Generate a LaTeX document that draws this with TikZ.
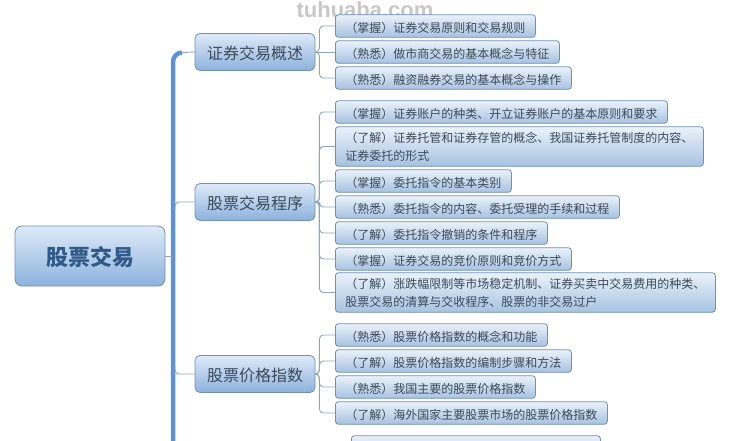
\documentclass[tikz,border=0pt]{standalone}
\usepackage{fontspec}
\setmainfont{Noto Sans CJK SC}
\newfontfamily\markfont{Liberation Sans}
\usetikzlibrary{calc}
\definecolor{trunkblue}{HTML}{5E93D3}
\definecolor{twiggray}{HTML}{8FA6B8}
\definecolor{edgeblue}{HTML}{6F90B4}
\definecolor{inkgray}{HTML}{3C4A58}
\definecolor{rootink}{HTML}{305A88}
\definecolor{boxtop}{HTML}{DDEAF8}
\definecolor{boxbot}{HTML}{8DB2DD}
\definecolor{leaftop}{HTML}{EAF2FA}
\definecolor{leafbot}{HTML}{A6C2E1}
\tikzset{
	rootbox/.style={draw=edgeblue, line width=0.8, rounded corners=7, top color=boxtop, bottom color=boxbot, minimum width=150, minimum height=60, text height=18, text depth=0, text=rootink, font=\fontsize{22}{24}\selectfont\bfseries},
	secbox/.style={draw=edgeblue, line width=0.8, rounded corners=5, top color=boxtop, bottom color=boxbot, minimum width=120, minimum height=37, text height=14, text depth=0, text=inkgray, font=\fontsize{16}{18}\selectfont},
	leafbox/.style={draw=edgeblue, line width=0.8, rounded corners=3, top color=leaftop, bottom color=leafbot, inner xsep=10, inner ysep=0, minimum height=22.5, text height=12, text depth=0, anchor=west, align=left, text=inkgray, font=\fontsize{12}{18}\selectfont},
	longleaf/.style={leafbox, minimum height=39.5, text height=28},
	twig/.style={draw=twiggray, line width=0.9, rounded corners=4},
	trunk/.style={draw=trunkblue, line width=4.5}
}

\begin{document}
\begin{tikzpicture}[x=1pt, y=-1pt]
	%%%%% START %%%%%
	\useasboundingbox (0, 0) rectangle (731, 440);
	\node[text=black!22, font=\markfont\fontsize{22}{24}\selectfont\bfseries] (mark) at (365, 10) {tuhuaba.com};

	% trunk
	\coordinate (trunkTop) at (182, 52.5);
	\coordinate (trunkBot) at (173, 446);
	\draw[trunk] (trunkBot) -- (173, 62) to[out=90, in=180] (trunkTop);

	% root and sections
	\node[rootbox] (root) at (90, 256) {股票交易};
	\node[secbox] (gaishu) at (255, 52) {证券交易概述};
	\node[secbox] (chengxu) at (255, 202) {股票交易程序};
	\node[secbox] (zhishu) at (255, 374) {股票价格指数};

	% first section
	\node[leafbox] (a1) at (335, 26) {（掌握）证券交易原则和交易规则};
	\node[leafbox] (a2) at (335, 52) {（熟悉）做市商交易的基本概念与特征};
	\node[leafbox] (a3) at (335, 78) {（熟悉）融资融券交易的基本概念与操作};

	% second section
	\node[leafbox] (b1) at (335, 112) {（掌握）证券账户的种类、开立证券账户的基本原则和要求};
	\node[longleaf] (b2) at (335, 146.5) {（了解）证券托管和证券存管的概念、我国证券托管制度的内容、\\证券委托的形式};
	\node[leafbox] (b3) at (335, 181) {（掌握）委托指令的基本类别};
	\node[leafbox] (b4) at (335, 207) {（熟悉）委托指令的内容、委托受理的手续和过程};
	\node[leafbox] (b5) at (335, 233) {（了解）委托指令撤销的条件和程序};
	\node[leafbox] (b6) at (335, 259) {（掌握）证券交易的竞价原则和竞价方式};
	\node[longleaf] (b7) at (335, 292.5) {（了解）涨跌幅限制等市场稳定机制、证券买卖中交易费用的种类、\\股票交易的清算与交收程序、股票的非交易过户};

	% third section
	\node[leafbox] (c1) at (335, 335) {（熟悉）股票价格指数的概念和功能};
	\node[leafbox] (c2) at (335, 361) {（了解）股票价格指数的编制步骤和方法};
	\node[leafbox] (c3) at (335, 387) {（熟悉）我国主要的股票价格指数};
	\node[leafbox] (c4) at (335, 413) {（了解）海外国家主要股票市场的股票价格指数};

	% cut off by the lower edge
	\node[leafbox, minimum width=249] (d1) at (351, 447) {};

	% connectors
	\draw[twig] (root.east) -- (root.east -| trunkBot);
	\draw[twig] (gaishu.west) -- (trunkTop);
	\draw[twig] (chengxu.west) -| ($(trunkBot |- chengxu.west)+(2, 8)$);
	\draw[twig] (zhishu.west) -| ($(trunkBot |- zhishu.west)+(2, -8)$);

	\draw[twig] (gaishu.east) -- ++(4, 0) |- (a1.west);
	\draw[twig] (gaishu.east) -- (a2.west);
	\draw[twig] (gaishu.east) -- ++(4, 0) |- (a3.west);

	\draw[twig] (chengxu.east) -- ++(4, 0) |- (b1.west);
	\draw[twig] (chengxu.east) -- ++(4, 0) |- (b2.west);
	\draw[twig] (chengxu.east) -- ++(4, 0) |- (b3.west);
	\draw[twig] (chengxu.east) -- ++(4, 0) |- (b4.west);
	\draw[twig] (chengxu.east) -- ++(4, 0) |- (b5.west);
	\draw[twig] (chengxu.east) -- ++(4, 0) |- (b6.west);
	\draw[twig] (chengxu.east) -- ++(4, 0) |- (b7.west);

	\draw[twig] (zhishu.east) -- ++(4, 0) |- (c1.west);
	\draw[twig] (zhishu.east) -- ++(4, 0) |- (c2.west);
	\draw[twig] (zhishu.east) -- ++(4, 0) |- (c3.west);
	\draw[twig] (zhishu.east) -- ++(4, 0) |- (c4.west);
	%%%%% END %%%%%
\end{tikzpicture}
\end{document}
